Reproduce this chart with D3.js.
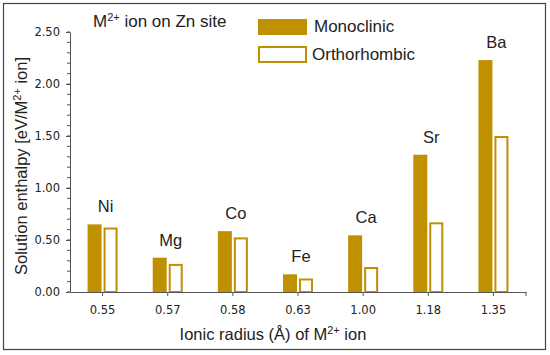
<!DOCTYPE html>
<html>
<head>
<meta charset="utf-8">
<script src="https://cdn.jsdelivr.net/npm/d3@7"></script>
<style>
	body { margin: 0; background: #fff; }
	text { fill: #222; }
</style>
</head>
<body>
<svg id="chart" width="550" height="355"></svg>
<script>
// data
var radii = ["0.55", "0.57", "0.58", "0.63", "1.00", "1.18", "1.35"];
var ions = ["Ni", "Mg", "Co", "Fe", "Ca", "Sr", "Ba"];
var monoclinic = [0.65, 0.33, 0.585, 0.17, 0.545, 1.32, 2.23];
var orthorhombic = [0.62, 0.27, 0.525, 0.13, 0.24, 0.67, 1.50];
var yTicks = [0, 0.5, 1.0, 1.5, 2.0, 2.5];

(function() {
	var gold = "#BF9000";
	var svg = d3.select("#chart");

	// outer frame
	svg.append("rect")
		.attr("x", 3.5).attr("y", 3.5)
		.attr("width", 542).attr("height", 346)
		.attr("fill", "#fff")
		.attr("stroke", "#444").attr("stroke-width", 1.2);

	var mL = 70, mR = 526, mT = 32, mB = 292;

	var x = d3.scaleBand().domain(radii).range([mL, mR]);
	var y = d3.scaleLinear().domain([0, 2.5]).range([mB, mT]);

	var barW = 14, gap = 2;
	var font = "16.5px 'Liberation Sans', Arial, sans-serif";

	//************ BARS ************
	var g = svg.append("g");
	radii.forEach(function(r, i) {
		var cx = x(r) + x.bandwidth() / 2;
		g.append("rect")
			.attr("x", cx - gap / 2 - barW)
			.attr("y", y(monoclinic[i]))
			.attr("width", barW)
			.attr("height", y(0) - y(monoclinic[i]))
			.attr("fill", gold);
		g.append("rect")
			.attr("x", cx + gap / 2 + 1)
			.attr("y", y(orthorhombic[i]) + 1)
			.attr("width", barW - 2)
			.attr("height", y(0) - y(orthorhombic[i]) - 1)
			.attr("fill", "#fff")
			.attr("stroke", gold).attr("stroke-width", 2);
		// element label
		g.append("text")
			.attr("x", cx + 3)
			.attr("y", y(Math.max(monoclinic[i], orthorhombic[i])) - 12)
			.attr("text-anchor", "middle")
			.style("font", font)
			.text(ions[i]);
	});

	//************ AXES ************
	var yAxis = d3.axisLeft(y)
		.tickValues(yTicks)
		.tickFormat(d3.format(".2f"))
		.tickSizeInner(4)
		.tickSizeOuter(0)
		.tickPadding(6);
	var ya = svg.append("g")
		.attr("transform", "translate(" + mL + ",0)")
		.call(yAxis);
	// minor ticks
	ya.selectAll(".minor")
		.data(d3.range(0, 2.5001, 0.1))
		.enter().append("line")
		.attr("class", "minor")
		.attr("x1", -3).attr("x2", 0)
		.attr("y1", function(d) { return y(d); })
		.attr("y2", function(d) { return y(d); })
		.attr("stroke", "#555");

	var xAxis = d3.axisBottom(x)
		.tickSizeInner(4)
		.tickSizeOuter(0)
		.tickPadding(10);
	var xa = svg.append("g")
		.attr("transform", "translate(0," + mB + ")")
		.call(xAxis);
	xa.append("line")
		.attr("x1", mR).attr("x2", mR)
		.attr("y1", 0).attr("y2", 4)
		.attr("stroke", "#555");

	svg.selectAll(".domain").attr("stroke", "#555");
	svg.selectAll(".tick line").attr("stroke", "#555");
	svg.selectAll(".tick text")
		.style("font-family", "'DejaVu Sans', Verdana, sans-serif")
		.style("font-size", "11.5px")
		.attr("fill", "#333");

	//************ TITLES ************
	var xt = svg.append("text")
		.attr("x", 273).attr("y", 340)
		.attr("text-anchor", "middle")
		.style("font", font);
	xt.append("tspan").text("Ionic radius (Å) of M");
	xt.append("tspan").attr("dy", -6).style("font-size", "11px").text("2+");
	xt.append("tspan").attr("dy", 6).text(" ion");

	var yt = svg.append("text")
		.attr("transform", "translate(27,166) rotate(-90)")
		.attr("text-anchor", "middle")
		.style("font", font);
	yt.append("tspan").text("Solution enthalpy [eV/M");
	yt.append("tspan").attr("dy", -6).style("font-size", "11px").text("2+");
	yt.append("tspan").attr("dy", 6).text(" ion]");

	var tt = svg.append("text")
		.attr("x", 93).attr("y", 27)
		.style("font", "17px 'Liberation Sans', Arial, sans-serif");
	tt.append("tspan").text("M");
	tt.append("tspan").attr("dy", -6).style("font-size", "11px").text("2+");
	tt.append("tspan").attr("dy", 6).text(" ion on Zn site");

	//************ LEGEND ************
	var legend = svg.append("g");
	legend.append("rect")
		.attr("x", 258).attr("y", 19).attr("width", 49).attr("height", 16)
		.attr("fill", gold);
	legend.append("rect")
		.attr("x", 259).attr("y", 47).attr("width", 47).attr("height", 15)
		.attr("fill", "#fff").attr("stroke", gold).attr("stroke-width", 2);
	legend.append("text").attr("x", 314).attr("y", 32)
		.style("font", "17px 'Liberation Sans', Arial, sans-serif").text("Monoclinic");
	legend.append("text").attr("x", 312).attr("y", 60)
		.style("font", "17px 'Liberation Sans', Arial, sans-serif").text("Orthorhombic");
})();
</script>
</body>
</html>
